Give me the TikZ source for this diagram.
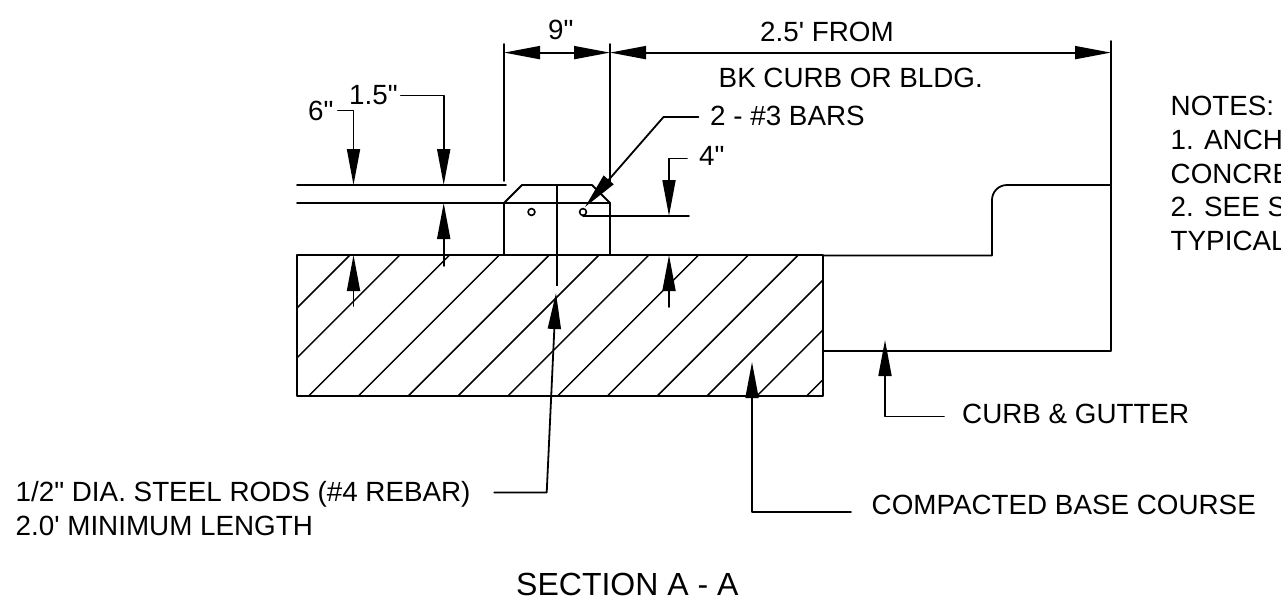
\documentclass[tikz,border=0pt]{standalone}
\usepackage{fontspec}
\newfontfamily\drawingfont{Liberation Sans}
\usetikzlibrary{arrows.meta}
\tikzset{
	lbl/.style={inner sep=0pt, anchor=base west, font=\drawingfont\fontsize{27.8}{32}\selectfont},
	part/.style={line width=1.8pt, line cap=round, line join=round},
	lead/.style={part, -{Triangle[length=36pt,width=13pt]}},
	both/.style={part, {Triangle[length=36pt,width=13pt]}-{Triangle[length=36pt,width=13pt]}},
}

\begin{document}
\begin{tikzpicture}[x=1pt, y=-1pt]
		%%%%% START %%%%%
		\useasboundingbox (0, 0) rectangle (1281, 598);
		
		% hatching of the base course
		\begin{scope}
			\clip (297, 255) rectangle (823, 396);
			\foreach \k in {0,...,12}
				\draw[line width=1.5pt] ({605+49.8*\k-400}, 400) -- ({605+49.8*\k-250}, 250);
		\end{scope}
		\draw[part] (297, 255) rectangle (823, 396);
		
		% curb
		\draw[part] (823, 255.5) -- (992, 255.5) -- (992, 200) .. controls (992, 191.7) and (998.7, 185) .. (1007, 185) -- (1111, 185);
		\draw[part] (823, 351) -- (1111, 351) -- (1111, 41);
		
		% slab and pad
		\draw[part] (297, 185) -- (506, 185);
		\draw[part] (297, 203) -- (610, 203);
		\draw[part] (504, 255) -- (504, 203) -- (522, 185) -- (592, 185) -- (610, 203) -- (610, 255);
		\draw[part] (504, 44) -- (504, 181);
		\draw[part] (610, 44) -- (610, 182);
		\draw[line width=2.6pt] (557, 185) -- (557, 286);
		\draw[line width=1.6pt] (531.5, 212) circle (3.4);
		\draw[line width=1.6pt] (583, 212) circle (3.4);
		
		% dimensions
		\node[lbl] (nine) at (548, 39.5) {9"};
		\node[lbl] (from) at (760, 41.5) {2.5' FROM};
		\node[lbl] (bk) at (718.5, 87.3) {BK CURB OR BLDG.};
		\node[lbl] (bars) at (710, 125) {2 - \#3 BARS};
		\node[lbl] (four) at (699, 165) {4"};
		\node[lbl] (six) at (308, 120.5) {6"};
		\node[lbl] (half) at (349, 104) {1.5"};
		
		\coordinate (pl) at (504, 52.6);
		\coordinate (pm) at (610, 52.6);
		\coordinate (pr) at (1111, 52.6);
		\draw[both] (pl) -- (pm);
		\draw[both] (pm) -- (pr);
		
		\draw[lead] ([xshift=4pt, yshift=10pt]six.base east) -| (353.5, 185);
		\draw[lead] ([xshift=3pt, yshift=8.5pt]half.base east) -| (443.7, 185);
		\draw[lead] ([xshift=-11.5pt, yshift=8pt]bars.base west) -- ++(-35, 0) -- (585, 207);
		\draw[part] (583, 216) -- (689, 216);
		\draw[lead] ([xshift=-12pt, yshift=6.5pt]four.base west) -| (669, 216);
		
		\draw[lead] (353.5, 306) -- (353.5, 255);
		\draw[lead] (443.7, 266) -- (443.7, 203);
		\draw[lead] (669, 307) -- (669, 255);
		
		% leaders below
		\node[lbl] (rods) at (15.5, 501) {1/2" DIA. STEEL RODS (\#4 REBAR)};
		\node[lbl] (len) at (15.5, 535) {2.0' MINIMUM LENGTH};
		\node[lbl] (base) at (871.5, 514.3) {COMPACTED BASE COURSE};
		\node[lbl] (gutter) at (962, 423) {CURB \& GUTTER};
		\node[lbl, font=\drawingfont\fontsize{32}{36}\selectfont] (title) at (516, 595) {SECTION A - A};
		
		\draw[lead] ([xshift=23.5pt, yshift=8.5pt]rods.base east) -- ++(52.5, 0) -- (556, 293);
		\draw[lead] ([xshift=-20.5pt, yshift=2.3pt]base.base west) -| (752, 362);
		\draw[lead] ([xshift=-18pt, yshift=6.5pt]gutter.base west) -| (885, 340);
		
		% notes, cut off by the sheet
		\begin{scope}
			\clip (0, 0) rectangle (1281, 598);
			\node[lbl] (notes) at (1170.5, 115.7) {NOTES:};
			\node[lbl] (one) at (1170.5, 149.3) {1. ANCHO};
			\node[lbl] (conc) at (1170.5, 183) {CONCRE};
			\node[lbl] (two) at (1170.5, 216.7) {2. SEE S};
			\node[lbl] (typ) at (1170.5, 250.5) {TYPICAL};
		\end{scope}
		%%%%% END %%%%%
	\end{tikzpicture}
\end{document}
